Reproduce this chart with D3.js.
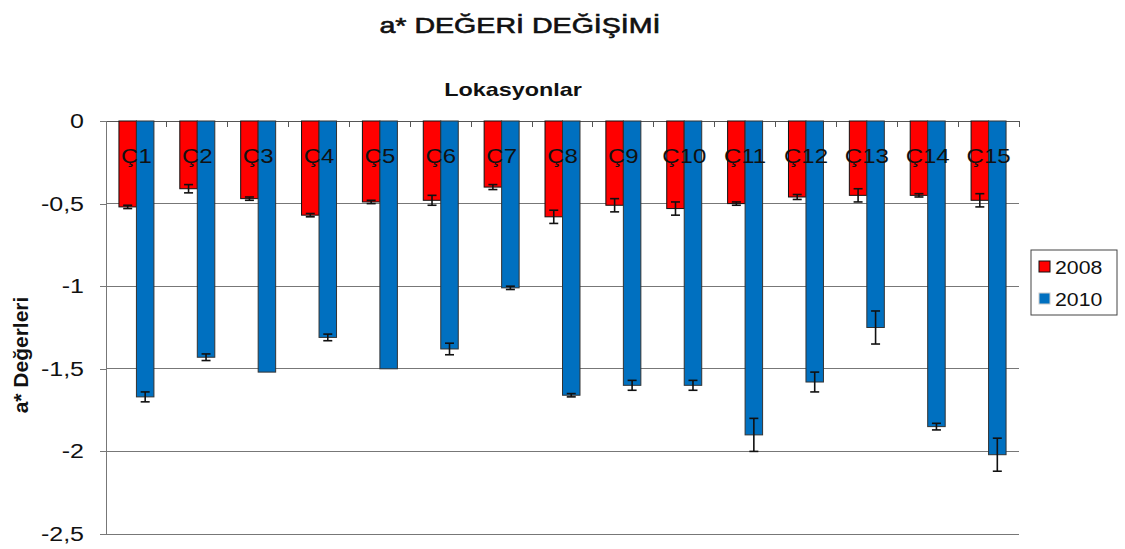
<!DOCTYPE html>
<html>
<head>
<meta charset="utf-8">
<script src="https://cdn.jsdelivr.net/npm/d3@7"></script>
<style>
  body { margin: 0; background: #fff; }
  text { font-family: "Liberation Sans", Arial, sans-serif; }
</style>
</head>
<body>
<div id="chart"></div>
<script>
// Data
const locations = ['Ç1', 'Ç2', 'Ç3', 'Ç4', 'Ç5', 'Ç6', 'Ç7', 'Ç8', 'Ç9', 'Ç10', 'Ç11', 'Ç12', 'Ç13', 'Ç14', 'Ç15']
const years = ['2008', '2010']
const values2008 = [-0.52, -0.41, -0.47, -0.57, -0.49, -0.48, -0.40, -0.58, -0.51, -0.53, -0.50, -0.46, -0.45, -0.45, -0.48]
const errors2008 = [0.01, 0.025, 0.01, 0.01, 0.01, 0.03, 0.015, 0.04, 0.04, 0.04, 0.01, 0.015, 0.04, 0.01, 0.04]
const values2010 = [-1.67, -1.43, -1.52, -1.31, -1.50, -1.38, -1.01, -1.66, -1.60, -1.60, -1.90, -1.58, -1.25, -1.85, -2.02]
const errors2010 = [0.03, 0.02, 0, 0.02, 0, 0.035, 0.01, 0.01, 0.03, 0.03, 0.1, 0.06, 0.1, 0.02, 0.1]
const yTicks = [0, -0.5, -1, -1.5, -2, -2.5]
const colors = ['#ff0000', '#0070c0']

const width = 1125
const height = 549
const margin = { top: 121, right: 106, bottom: 15, left: 106 }
// the original picture is stretched sideways, so text is widened a bit
const stretch = 1.25

const svg = d3.select('#chart')
  .append('svg')
  .attr('width', width)
  .attr('height', height)

const dataset = []
locations.forEach((loc, i) => {
  dataset.push({ loc: loc, year: '2008', value: values2008[i], err: errors2008[i] })
  dataset.push({ loc: loc, year: '2010', value: values2010[i], err: errors2010[i] })
})

// Scales
const xScale = d3.scaleBand()
  .domain(locations)
  .range([margin.left, width - margin.right])

const xInner = d3.scaleBand()
  .domain(years)
  .range([0, xScale.bandwidth()])
  .paddingInner(0)
  .paddingOuter(0.74)

const yScale = d3.scaleLinear()
  .domain([0, -2.5])
  .range([margin.top, height - margin.bottom])

// Grid lines
svg.append('g')
  .selectAll('line')
  .data(yTicks)
  .enter()
  .append('line')
  .attr('x1', margin.left)
  .attr('x2', width - margin.right)
  .attr('y1', d => yScale(d))
  .attr('y2', d => yScale(d))
  .attr('stroke', d => d === 0 ? '#555' : '#777')
  .attr('stroke-width', 1)
  .attr('shape-rendering', 'crispEdges')

// Y axis
const yAxis = d3.axisLeft(yScale)
  .tickValues(yTicks)
  .tickSize(6)
  .tickPadding(11.6)
  .tickFormat(d => String(d).replace('.', ','))

const yG = svg.append('g')
  .attr('transform', `translate(${margin.left}, 0)`)
  .call(yAxis)
yG.select('.domain').attr('stroke', '#777').attr('shape-rendering', 'crispEdges')
yG.selectAll('.tick line').attr('stroke', '#777').attr('shape-rendering', 'crispEdges')
yG.selectAll('.tick text')
  .attr('font-size', 20)
  .attr('font-family', '"Liberation Sans", Arial, sans-serif')
  .attr('fill', '#111')
  .attr('transform', `scale(${stretch},1)`)

// Category ticks on the zero line
svg.append('g')
  .selectAll('line')
  .data(locations)
  .enter()
  .append('line')
  .attr('x1', d => xScale(d) + xScale.step())
  .attr('x2', d => xScale(d) + xScale.step())
  .attr('y1', yScale(0))
  .attr('y2', yScale(0) + 6)
  .attr('stroke', '#555')
  .attr('shape-rendering', 'crispEdges')

// Bars
svg.append('g')
  .selectAll('rect')
  .data(dataset)
  .enter()
  .append('rect')
  .attr('x', d => xScale(d.loc) + xInner(d.year))
  .attr('y', yScale(0))
  .attr('width', xInner.bandwidth())
  .attr('height', d => yScale(d.value) - yScale(0))
  .attr('fill', d => colors[years.indexOf(d.year)])
  .attr('stroke', d => d.year === '2008' ? '#111' : '#333')
  .attr('stroke-width', 1)

// Error bars
const errG = svg.append('g')
  .attr('stroke', '#111')
  .attr('stroke-width', 1.6)
dataset.filter(d => d.err > 0).forEach(d => {
  const cx = xScale(d.loc) + xInner(d.year) + xInner.bandwidth() / 2
  const y1 = yScale(d.value - d.err)
  const y2 = yScale(d.value + d.err)
  errG.append('line').attr('x1', cx).attr('x2', cx).attr('y1', y1).attr('y2', y2)
  errG.append('line').attr('x1', cx - 4.5).attr('x2', cx + 4.5).attr('y1', y1).attr('y2', y1)
  errG.append('line').attr('x1', cx - 4.5).attr('x2', cx + 4.5).attr('y1', y2).attr('y2', y2)
})

// Category labels
svg.append('g')
  .selectAll('text')
  .data(locations)
  .enter()
  .append('text')
  .attr('transform', d => `translate(${xScale(d) + xScale.bandwidth() / 2}, 163) scale(1.2,1)`)
  .attr('text-anchor', 'middle')
  .attr('font-size', 20)
  .attr('fill', '#111')
  .text(d => d)

// Titles
svg.append('text')
  .attr('transform', 'translate(520, 33) scale(1.3,1)')
  .attr('text-anchor', 'middle')
  .attr('font-size', 22)
  .attr('fill', '#111')
  .attr('stroke', '#111')
  .attr('stroke-width', 0.6)
  .text('a* DEĞERİ DEĞİŞİMİ')

svg.append('text')
  .attr('transform', 'translate(513, 96) scale(1.3,1)')
  .attr('text-anchor', 'middle')
  .attr('font-size', 18)
  .attr('font-weight', 'bold')
  .attr('fill', '#111')
  .text('Lokasyonlar')

svg.append('text')
  .attr('transform', 'translate(28, 355) rotate(-90)')
  .attr('text-anchor', 'middle')
  .attr('font-size', 21)
  .attr('font-weight', 'bold')
  .attr('fill', '#111')
  .text('a* Değerleri')

// Legend
const legend = svg.append('g')
  .attr('transform', 'translate(1031, 250)')

legend.append('rect')
  .attr('width', 86)
  .attr('height', 65)
  .attr('fill', '#fff')
  .attr('stroke', '#444')

legend.selectAll('.swatch')
  .data(years)
  .enter()
  .append('rect')
  .attr('x', 8)
  .attr('y', (d, i) => 11 + i * 32)
  .attr('width', 11)
  .attr('height', 11)
  .attr('fill', (d, i) => colors[i])
  .attr('stroke', (d, i) => i === 0 ? '#111' : '#ccc')

legend.selectAll('.label')
  .data(years)
  .enter()
  .append('text')
  .attr('transform', (d, i) => `translate(24, ${24 + i * 32}) scale(1.12,1)`)
  .attr('font-size', 19)
  .attr('fill', '#111')
  .text(d => d)
</script>
</body>
</html>
